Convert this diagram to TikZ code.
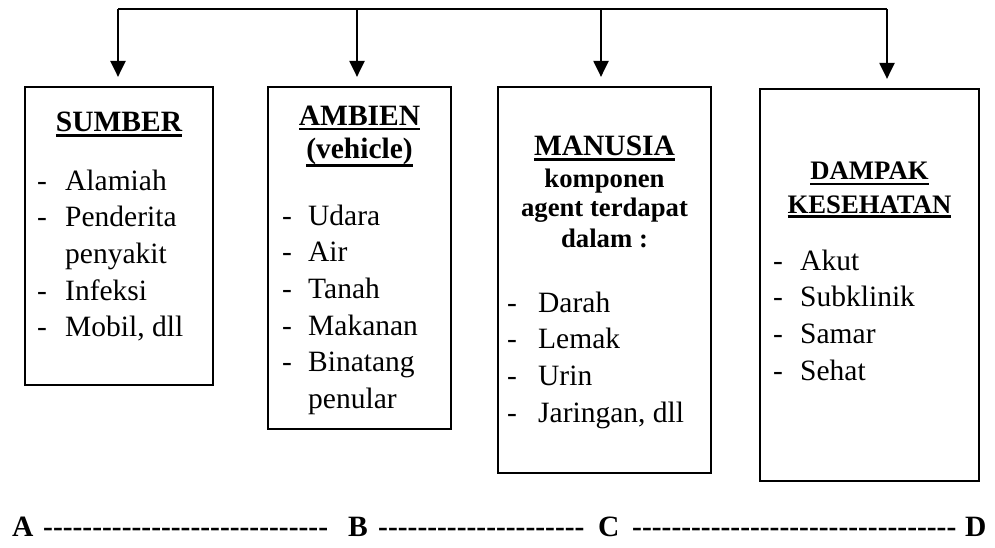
\documentclass[tikz,border=0pt]{standalone}
\usepackage{fontspec}
\setmainfont{Liberation Serif}
\usetikzlibrary{arrows.meta}
\newcount\hycnt
\newcommand\hyrun[1]{\hycnt=#1\relax\loop\ifnum\hycnt>0 -\kern0pt\advance\hycnt by -1\repeat}
\newcommand\ulx[2][5pt]{\setbox0=\hbox{#2}\rlap{\rule[-#1]{\wd0}{2.6pt}}\box0}
\begin{document}
\begin{tikzpicture}[x=1pt,y=-1pt,
  box/.style={draw, line width=2.2pt, inner sep=0pt},
  conn/.style={line width=2.2pt},
  arr/.style={line width=2.2pt, -{Triangle[length=16pt,width=15pt]}, shorten >=9pt},
  item/.style={font=\fontsize{29.5}{36.7}\selectfont, inner sep=0pt, anchor=base west},
  ttl/.style={font=\bfseries\fontsize{29.5}{34}\selectfont, inner sep=0pt, anchor=base},
  subttl/.style={font=\bfseries\fontsize{26.7}{30.5}\selectfont, inner sep=0pt, anchor=base},
  bot/.style={font=\bfseries\fontsize{29.5}{34}\selectfont, inner sep=0pt, anchor=base west}]
\useasboundingbox (0,0) rectangle (995,548);

% boxes
\node[box, minimum width=188pt, minimum height=298pt] (b1) at (119,236) {};
\node[box, minimum width=183pt, minimum height=342pt] (b2) at (359.5,258) {};
\node[box, minimum width=213pt, minimum height=386pt] (b3) at (604.5,280) {};
\node[box, minimum width=219pt, minimum height=392pt] (b4) at (869.5,285) {};

% top connector
\coordinate (t1) at (118,9);
\coordinate (t2) at (357,9);
\coordinate (t3) at (601,9);
\coordinate (t4) at (887,9);
\draw[conn] (t1) -- (t4);
\draw[arr] (t1) -- (t1 |- b1.north);
\draw[arr] (t2) -- (t2 |- b2.north);
\draw[arr] (t3) -- (t3 |- b3.north);
\draw[arr] (t4) -- (t4 |- b4.north);

% box 1
\node[ttl] (h1) at (119,132) {\ulx{SUMBER}};
\node[item] (l1) at (37,190) {\begin{tabular}[t]{@{}p{28pt}@{}l@{}}
- & Alamiah\\
- & Penderita\\
  & penyakit\\
- & Infeksi\\
- & Mobil, dll
\end{tabular}};

% box 2
\node[ttl] (h2a) at (359.5,126) {\ulx[4.5pt]{AMBIEN}};
\node[ttl] (h2b) at (359.5,159) {\ulx[8pt]{(vehicle)}};
\node[item] (l2) at (282,225) {\begin{tabular}[t]{@{}p{26pt}@{}l@{}}
- & Udara\\
- & Air\\
- & Tanah\\
- & Makanan\\
- & Binatang\\
  & penular
\end{tabular}};

% box 3
\node[ttl] (h3) at (604.5,156) {\ulx{MANUSIA}};
\node[subttl] (s3a) at (604.5,187) {komponen};
\node[subttl] (s3b) at (604.5,216) {agent terdapat};
\node[subttl] (s3c) at (604.5,247) {dalam :};
\node[item] (l3) at (507,312) {\begin{tabular}[t]{@{}p{31pt}@{}l@{}}
- & Darah\\
- & Lemak\\
- & Urin\\
- & Jaringan, dll
\end{tabular}};

% box 4
\node[subttl] (h4a) at (869.5,180) {\ulx[5.5pt]{DAMPAK}};
\node[subttl] (h4b) at (869.5,213) {\ulx{KESEHATAN}};
\node[item] (l4) at (773,270) {\begin{tabular}[t]{@{}p{27pt}@{}l@{}}
- & Akut\\
- & Subklinik\\
- & Samar\\
- & Sehat
\end{tabular}};

% bottom scale
\node[bot] (A) at (12,536) {A};
\node[bot] (dAB) at (43,536) {\hyrun{29}};
\node[bot] (B) at (348,536) {B};
\node[bot] (dBC) at (378,536) {\hyrun{21}};
\node[bot] (C) at (598,536) {C};
\node[bot] (dCD) at (632,536) {\hyrun{33}};
\node[bot] (D) at (965,536) {D};
\end{tikzpicture}
\end{document}
